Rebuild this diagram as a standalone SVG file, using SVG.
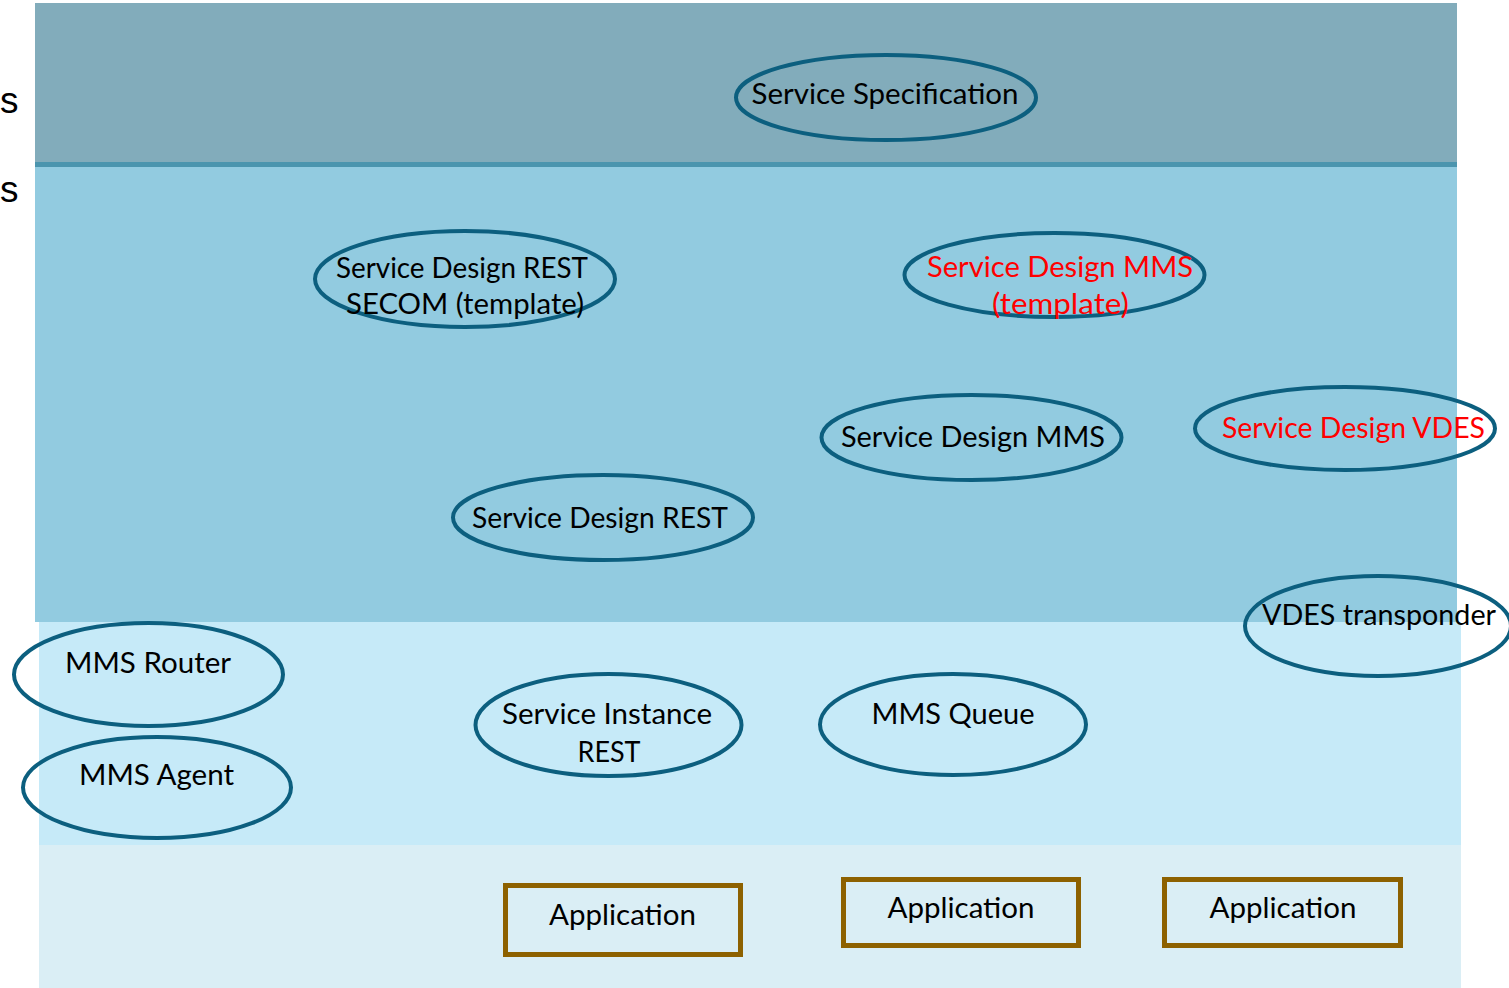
<svg xmlns="http://www.w3.org/2000/svg" width="1509" height="988" viewBox="0 0 1509 988">
<style>
.node ellipse{fill:none;stroke:#0c5f7f;stroke-width:4}
.app rect{fill:none;stroke:#8d6100;stroke-width:5}
text{font-family:Lato,"Open Sans","Noto Sans",sans-serif;font-size:29px;fill:#000;text-anchor:middle}
.red{fill:#ff0000}
.edge{font-family:"Liberation Sans",Arial,sans-serif;font-size:37px;text-anchor:start}
</style>
<rect width="1509" height="988" fill="#ffffff"/>
<g id="bands">
<rect x="35" y="3" width="1422" height="160" fill="#82acbb"/>
<rect x="35" y="162" width="1422" height="5" fill="#4b95ae"/>
<rect x="35" y="167" width="1422" height="455" fill="#92cbe0"/>
<rect x="39" y="622" width="1422" height="223" fill="#c6eaf8"/>
<rect x="39" y="845" width="1422" height="143" fill="#daeef5"/>
</g>
<g id="edge-labels">
<text class="edge" x="0" y="113">s</text>
<text class="edge" x="0" y="202">s</text>
</g>
<g id="connectors"></g>
<g id="service-specification" class="node">
<ellipse cx="886" cy="97.5" rx="150" ry="42.5"/>
<text x="885" y="104" textLength="267" lengthAdjust="spacingAndGlyphs">Service Specification</text>
</g>
<g id="service-design-rest-secom" class="node">
<ellipse cx="465" cy="279" rx="150" ry="48"/>
<text x="462" y="278" textLength="252" lengthAdjust="spacingAndGlyphs">Service Design REST</text>
<text x="465" y="314" textLength="238" lengthAdjust="spacingAndGlyphs">SECOM (template)</text>
</g>
<g id="service-design-mms-template" class="node">
<ellipse cx="1054.5" cy="275" rx="150" ry="42"/>
<text class="red" x="1060" y="277" textLength="266" lengthAdjust="spacingAndGlyphs">Service Design MMS</text>
<text class="red" x="1060.5" y="314" textLength="137" lengthAdjust="spacingAndGlyphs">(template)</text>
</g>
<g id="service-design-mms" class="node">
<ellipse cx="971.5" cy="437.5" rx="150" ry="42.5"/>
<text x="973" y="447" textLength="264" lengthAdjust="spacingAndGlyphs">Service Design MMS</text>
</g>
<g id="service-design-rest" class="node">
<ellipse cx="603" cy="517.5" rx="150" ry="42.5"/>
<text x="600" y="528" textLength="256" lengthAdjust="spacingAndGlyphs">Service Design REST</text>
</g>
<g id="service-design-vdes" class="node">
<ellipse cx="1345" cy="428.5" rx="150" ry="41.5"/>
<text class="red" x="1353.5" y="438" textLength="263" lengthAdjust="spacingAndGlyphs">Service Design VDES</text>
</g>
<g id="vdes-transponder" class="node">
<ellipse cx="1378" cy="626" rx="133" ry="50"/>
<text x="1379" y="625" textLength="234" lengthAdjust="spacingAndGlyphs">VDES transponder</text>
</g>
<g id="mms-router" class="node">
<ellipse cx="148.5" cy="674.5" rx="134.5" ry="51.5"/>
<text x="148" y="673" textLength="166" lengthAdjust="spacingAndGlyphs">MMS Router</text>
</g>
<g id="mms-agent" class="node">
<ellipse cx="157" cy="787.5" rx="134" ry="50.5"/>
<text x="156.5" y="785" textLength="155" lengthAdjust="spacingAndGlyphs">MMS Agent</text>
</g>
<g id="service-instance-rest" class="node">
<ellipse cx="608.5" cy="725" rx="133" ry="51"/>
<text x="607" y="724" textLength="210" lengthAdjust="spacingAndGlyphs">Service Instance</text>
<text x="609" y="762" textLength="63" lengthAdjust="spacingAndGlyphs">REST</text>
</g>
<g id="mms-queue" class="node">
<ellipse cx="953" cy="724.5" rx="133" ry="50.5"/>
<text x="953" y="724" textLength="163" lengthAdjust="spacingAndGlyphs">MMS Queue</text>
</g>
<g id="application-1" class="app">
<rect x="505.5" y="885.5" width="235" height="69"/>
<text x="622.5" y="925" textLength="147" lengthAdjust="spacingAndGlyphs">Application</text>
</g>
<g id="application-2" class="app">
<rect x="843.5" y="879.5" width="235" height="66"/>
<text x="961" y="918" textLength="147" lengthAdjust="spacingAndGlyphs">Application</text>
</g>
<g id="application-3" class="app">
<rect x="1164.5" y="879.5" width="236" height="66"/>
<text x="1283" y="918" textLength="147" lengthAdjust="spacingAndGlyphs">Application</text>
</g>
</svg>
